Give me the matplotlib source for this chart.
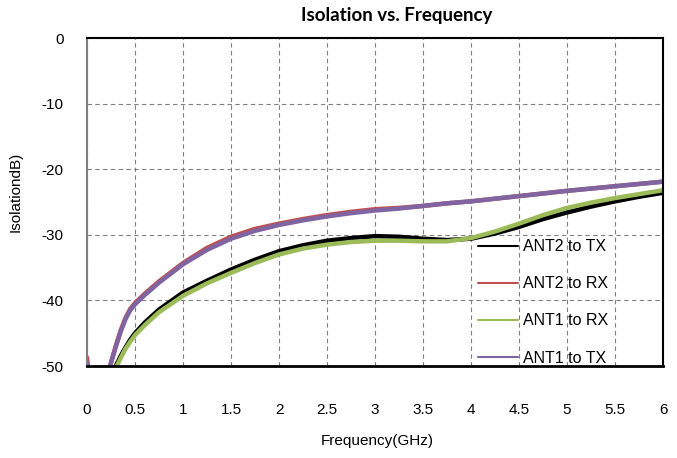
import numpy as np
import matplotlib
matplotlib.use('Agg')
import matplotlib.pyplot as plt

plt.rcParams['font.family'] = ['Liberation Sans', 'DejaVu Sans']
plt.rcParams['axes.unicode_minus'] = False

# ANT2 to TX
f_ant2_tx = [0.30, 0.35, 0.40, 0.45, 0.50, 0.60, 0.75, 1.00, 1.25, 1.50, 1.75, 2.00, 2.25, 2.50, 2.75,
             3.00, 3.25, 3.50, 3.75, 4.00, 4.25, 4.50, 4.75, 5.00, 5.25, 5.50, 5.75, 6.00]
iso_ant2_tx = [-50.0, -48.5, -47.2, -46.0, -45.0, -43.4, -41.4, -38.8, -37.0, -35.3, -33.8, -32.5, -31.6,
               -30.9, -30.5, -30.2, -30.3, -30.6, -30.8, -30.6, -29.8, -28.8, -27.6, -26.6, -25.7,
               -24.9, -24.2, -23.6]

# ANT2 to RX
f_ant2_rx = [0.00, 0.03, 0.20, 0.24, 0.30, 0.35, 0.40, 0.45, 0.50, 0.60, 0.75, 1.00, 1.25, 1.50, 1.75,
             2.00, 2.25, 2.50, 2.75, 3.00, 3.25, 3.50, 3.75, 4.00, 4.50, 5.00, 5.50, 6.00]
iso_ant2_rx = [-48.7, -53.0, -53.0, -50.0, -46.9, -44.6, -42.7, -41.3, -40.4, -39.0, -37.1, -34.3, -32.0,
               -30.3, -29.1, -28.3, -27.6, -27.0, -26.5, -26.1, -25.9, -25.6, -25.2, -24.9, -24.1,
               -23.3, -22.6, -21.9]

# ANT1 to RX
f_ant1_rx = [0.31, 0.35, 0.40, 0.45, 0.50, 0.60, 0.75, 1.00, 1.25, 1.50, 1.75, 2.00, 2.25, 2.50, 2.75,
             3.00, 3.25, 3.50, 3.75, 4.00, 4.25, 4.50, 4.75, 5.00, 5.25, 5.50, 5.75, 6.00]
iso_ant1_rx = [-50.0, -48.8, -47.4, -46.3, -45.3, -43.8, -41.8, -39.3, -37.4, -35.8, -34.3, -33.0, -32.1,
               -31.5, -31.1, -30.9, -30.9, -31.0, -31.0, -30.5, -29.5, -28.3, -27.0, -25.9, -25.1,
               -24.4, -23.8, -23.2]

# ANT1 to TX
f_ant1_tx = [0.00, 0.03, 0.20, 0.24, 0.30, 0.35, 0.40, 0.45, 0.50, 0.60, 0.75, 1.00, 1.25, 1.50, 1.75,
             2.00, 2.25, 2.50, 2.75, 3.00, 3.25, 3.50, 3.75, 4.00, 4.50, 5.00, 5.50, 6.00]
iso_ant1_tx = [-49.5, -53.0, -53.0, -50.0, -47.1, -44.8, -42.9, -41.5, -40.6, -39.2, -37.3, -34.5, -32.3,
               -30.6, -29.4, -28.5, -27.8, -27.2, -26.7, -26.3, -26.0, -25.6, -25.2, -24.9, -24.1,
               -23.3, -22.6, -21.9]

series = [
    (f_ant2_tx, iso_ant2_tx, 'ANT2 to TX', '#000000'),
    (f_ant2_rx, iso_ant2_rx, 'ANT2 to RX', '#c0504d'),
    (f_ant1_rx, iso_ant1_rx, 'ANT1 to RX', '#9bbb59'),
    (f_ant1_tx, iso_ant1_tx, 'ANT1 to TX', '#8064a2'),
]

x_ticks = np.arange(0, 6.01, 0.5)
x_labels = ['0', '0.5', '1', '1.5', '2', '2.5', '3', '3.5', '4', '4.5', '5', '5.5', '6']
y_ticks = [0, -10, -20, -30, -40, -50]

fig = plt.figure(figsize=(6.77, 4.58), dpi=100)
ax = fig.add_axes([87/677, 1-366/458, (663-87)/677, (366-38)/458])

for f, iso, label, color in series:
    ax.plot(f, iso, color=color, lw=3.2, label=label, solid_capstyle='round', solid_joinstyle='round')

ax.set_xlim(0, 6)
ax.set_ylim(-50, 0)
ax.set_xticks(x_ticks)
ax.set_xticklabels(x_labels)
ax.set_yticks(y_ticks)
ax.tick_params(length=0, labelsize=11, colors='black')
ax.tick_params(axis='x', pad=27)
ax.tick_params(axis='y', pad=17)
ax.grid(True, ls=(0, (4, 3)), color='#808080', lw=0.8)

for s in ['top', 'right']:
    ax.spines[s].set_color('black')
    ax.spines[s].set_linewidth(1.5)
ax.spines['left'].set_color('#808080')
ax.spines['left'].set_linewidth(1.5)
ax.spines['bottom'].set_color('black')
ax.spines['bottom'].set_linewidth(2)

fig.text(397/677, 1-15/458, 'Isolation vs. Frequency', ha='center', va='center',
         fontsize=13.5, fontweight='bold', family=['Lato', 'DejaVu Sans'])
fig.text(377/677, 1-441/458, 'Frequency(GHz)', ha='center', va='center', fontsize=11)
fig.text(16/677, 1-192/458, 'IsolationdB)', ha='center', va='center', fontsize=11, rotation=90)

leg = ax.legend(loc='upper left', bbox_to_anchor=((472-87)/576, (366-233)/328), frameon=False,
                fontsize=11.5, handlelength=2.5, handletextpad=0.3, labelspacing=1.38,
                borderaxespad=0)
for line in leg.get_lines():
    line.set_linewidth(1.5)

fig.savefig('out.png', dpi=100)
